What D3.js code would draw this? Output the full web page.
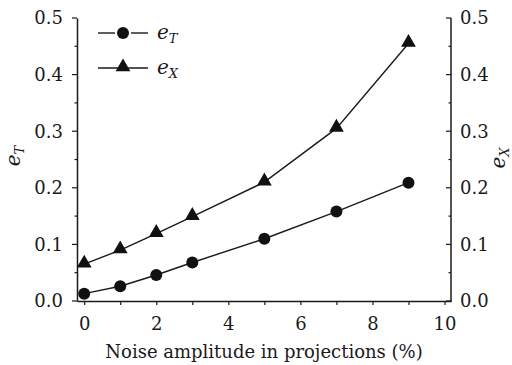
<!DOCTYPE html>
<html><head><meta charset="utf-8">
<script src="https://cdn.jsdelivr.net/npm/d3@7"></script>
<style>body{margin:0;background:#fff}svg{display:block}</style>
</head><body>
<script>
const noise = [0, 1, 2, 3, 5, 7, 9];
const eT = [0.013, 0.026, 0.046, 0.068, 0.110, 0.158, 0.209];
const eX = [0.065, 0.090, 0.119, 0.149, 0.210, 0.305, 0.455];
const xTicks = [0, 2, 4, 6, 8, 10];
const yTicks = [0.0, 0.1, 0.2, 0.3, 0.4, 0.5];
const xLabel = "Noise amplitude in projections (%)";

const W = 512, H = 365;
const FONT = "'DejaVu Serif', 'Liberation Serif', 'Times New Roman', serif";
const svg = d3.select("body").append("svg").attr("width", W).attr("height", H)
  .style("font-family", FONT);
const x = d3.scaleLinear().domain([-0.2, 10.18]).range([77, 451]);
const y = d3.scaleLinear().domain([0, 0.5]).range([301, 18]);
const col = "#1a1a1a";

// x axis
const xa = svg.append("g").attr("transform", "translate(0,301)")
  .call(d3.axisBottom(x).tickValues(d3.range(0, 11)).tickSize(4).tickSizeOuter(0)
    .tickFormat(d => xTicks.includes(d) ? d : ""));
xa.attr("font-family", null);
xa.select(".domain").attr("stroke", col).attr("stroke-width", 1.5);
xa.selectAll(".tick line").attr("stroke", col).attr("stroke-width", 1.2);
xa.selectAll("text").attr("font-size", 18).attr("dy", "1.2em").attr("fill", col).style("font-family", FONT);

// left axis
const ya = svg.append("g").attr("transform", "translate(77,0)")
  .call(d3.axisLeft(y).tickValues(d3.range(0, 0.501, 0.05)).tickSize(0).tickSizeOuter(0).tickFormat(""));
ya.select(".domain").attr("stroke", col).attr("stroke-width", 1.5);
const yl = svg.append("g");
d3.range(0, 0.501, 0.05).forEach((v, i) => {
  const major = i % 2 === 0;
  yl.append("line").attr("x1", 77 - (major ? 5 : 2.5)).attr("x2", 77).attr("y1", y(v)).attr("y2", y(v))
    .attr("stroke", col).attr("stroke-width", 1.2);
  yl.append("line").attr("x1", 451 - (major ? 5 : 2.5)).attr("x2", 451).attr("y1", y(v)).attr("y2", y(v))
    .attr("stroke", col).attr("stroke-width", 1.2);
});
yTicks.forEach(v => {
  yl.append("text").attr("x", 63).attr("y", y(v)).attr("dy", "0.35em").attr("text-anchor", "end")
    .attr("font-size", 18).attr("fill", col).text(v.toFixed(1));
  yl.append("text").attr("x", 460).attr("y", y(v)).attr("dy", "0.35em").attr("text-anchor", "start")
    .attr("font-size", 18).attr("fill", col).text(v.toFixed(1));
});
svg.append("line").attr("x1", 451).attr("x2", 451).attr("y1", y(0.5)).attr("y2", 301.75)
  .attr("stroke", col).attr("stroke-width", 1.5);

// axis titles
const lt = svg.append("text").attr("transform", "translate(20,156) rotate(-90)").attr("text-anchor", "middle").attr("font-size", 20).attr("fill", col);
lt.append("tspan").attr("font-style", "italic").text("e");
lt.append("tspan").attr("font-style", "italic").attr("font-size", 13).attr("dy", 4).text("T");
const rt = svg.append("text").attr("transform", "translate(505,158) rotate(-90)").attr("text-anchor", "middle").attr("font-size", 20).attr("fill", col);
rt.append("tspan").attr("font-style", "italic").text("e");
rt.append("tspan").attr("font-style", "italic").attr("font-size", 13).attr("dy", 4).text("X");
svg.append("text").attr("x", 264).attr("y", 358).attr("text-anchor", "middle").attr("font-size", 18).attr("fill", col).text(xLabel);

// lines
const line = d3.line().x((d, i) => x(noise[i])).y(d => y(d));
svg.append("path").datum(eT).attr("d", line).attr("fill", "none").attr("stroke", col).attr("stroke-width", 1.4);
svg.append("path").datum(eX).attr("d", line).attr("fill", "none").attr("stroke", col).attr("stroke-width", 1.4);
const tri = d3.symbol().type(d3.symbolTriangle).size(95);
svg.append("g").selectAll("circle").data(eT).join("circle")
  .attr("cx", (d, i) => x(noise[i])).attr("cy", d => y(d)).attr("r", 6).attr("fill", "#111");
svg.append("g").selectAll("path").data(eX).join("path")
  .attr("d", tri).attr("transform", (d, i) => `translate(${x(noise[i])},${y(d) - 1})`).attr("fill", "#111");

// legend
const lg = svg.append("g");
lg.append("line").attr("x1", 98).attr("x2", 115).attr("y1", 33).attr("y2", 33).attr("stroke", col).attr("stroke-width", 1.4);
lg.append("line").attr("x1", 131).attr("x2", 148).attr("y1", 33).attr("y2", 33).attr("stroke", col).attr("stroke-width", 1.4);
lg.append("circle").attr("cx", 123).attr("cy", 33).attr("r", 6).attr("fill", "#111");
lg.append("line").attr("x1", 98).attr("x2", 148).attr("y1", 68).attr("y2", 68).attr("stroke", col).attr("stroke-width", 1.4);
lg.append("path").attr("d", tri).attr("transform", "translate(123,67)").attr("fill", "#111");
const l1 = lg.append("text").attr("x", 157).attr("y", 39).attr("font-size", 20).attr("font-style", "italic").attr("fill", col);
l1.append("tspan").text("e"); l1.append("tspan").attr("font-size", 13).attr("dy", 4).text("T");
const l2 = lg.append("text").attr("x", 157).attr("y", 74).attr("font-size", 20).attr("font-style", "italic").attr("fill", col);
l2.append("tspan").text("e"); l2.append("tspan").attr("font-size", 13).attr("dy", 4).text("X");
</script>
</body></html>
